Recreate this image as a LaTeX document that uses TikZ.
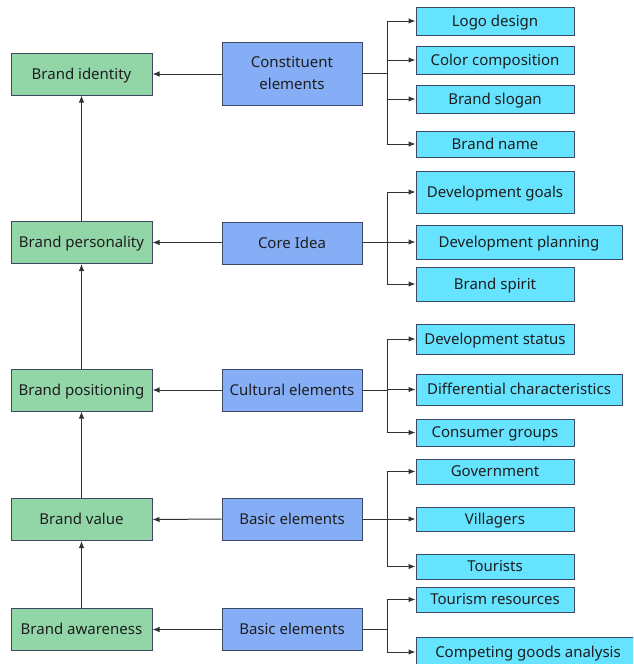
\documentclass[tikz,border=0pt]{standalone}
\usepackage{fontspec}
\setmainfont{Noto Sans}
\usetikzlibrary{arrows.meta}
\definecolor{gfill}{RGB}{146,214,168}
\definecolor{bfill}{RGB}{134,174,246}
\definecolor{cfill}{RGB}{102,227,255}
\definecolor{bord}{RGB}{60,72,100}
\definecolor{lin}{RGB}{50,50,50}
\definecolor{txt}{RGB}{30,30,30}
\tikzset{
  boxbase/.style={draw=bord, line width=1pt, inner sep=0pt, align=center, text=txt, font=\fontsize{15}{18}\selectfont, text height=10.7pt, text depth=0pt},
  gbox/.style={boxbase, fill=gfill, minimum width=141pt, minimum height=42pt},
  bbox/.style={boxbase, fill=bfill, minimum width=140pt, minimum height=42pt},
  cbox/.style={boxbase, fill=cfill, minimum width=158pt},
  wbox/.style={boxbase, fill=cfill, minimum width=206pt},
  conn/.style={draw=lin, line width=1pt},
  arr/.style={conn, -{Latex[length=7pt,width=5.5pt]}}
}
\begin{document}
\begin{tikzpicture}[x=1pt,y=-1pt]
\useasboundingbox (0,0) rectangle (633,664);
\begin{scope}
\clip (0,0) rectangle (633,664);
% green column
\node[gbox] (g1) at (81.5,74) {Brand identity};
\node[gbox] (g2) at (81.5,242.5) {Brand personality};
\node[gbox] (g3) at (81.5,390) {Brand positioning};
\node[gbox] (g4) at (81.5,519.5) {Brand value};
\node[gbox] (g5) at (81.5,629.5) {Brand awareness};
% blue column
\node[bbox, minimum height=63pt, text height=, text depth=, font=\fontsize{15}{22}\selectfont] (b1) at (292,73.5) {Constituent\\elements};
\node[bbox] (b2) at (292,243) {Core Idea};
\node[bbox] (b3) at (292,390) {Cultural elements};
\node[bbox] (b4) at (292,519) {Basic elements};
\node[bbox] (b5) at (292,629.5) {Basic elements};
% cyan group 1
\node[cbox, minimum height=28pt] (c11) at (495,21) {Logo design};
\node[cbox, minimum height=28pt] (c12) at (495,60) {Color composition};
\node[cbox, minimum height=28pt] (c13) at (495,99) {Brand slogan};
\node[cbox, minimum height=26pt] (c14) at (495,144) {Brand name};
% cyan group 2
\node[cbox, minimum height=42pt] (c21) at (495,192) {Development goals};
\node[wbox, minimum height=34pt] (c22) at (519,242) {Development planning};
\node[cbox, minimum height=34pt] (c23) at (495,284) {Brand spirit};
% cyan group 3
\node[cbox, minimum height=30pt] (c31) at (495,339) {Development status};
\node[wbox, minimum height=31pt] (c32) at (519,389.5) {Differential characteristics};
\node[cbox, minimum height=27pt] (c33) at (495,432.5) {Consumer groups};
% cyan group 4
\node[cbox, minimum height=25pt] (c41) at (495,471.5) {Government};
\node[cbox, minimum height=24pt] (c42) at (495,519) {Villagers};
\node[cbox, minimum height=25pt] (c43) at (495,566.5) {Tourists};
% cyan group 5
\node[cbox, minimum height=25pt] (c51) at (495,599.5) {Tourism resources};
\node[boxbase, fill=cfill, minimum width=224pt, minimum height=30pt] (c52) at (528,652) {Competing goods analysis};
% blue -> green
\draw[arr] (b1.west |- g1.east) -- (g1.east);
\draw[arr] (b2.west |- g2.east) -- (g2.east);
\draw[arr] (b3.west) -- (g3.east);
\draw[arr] (b4.west) -- (g4.east);
\draw[arr] (b5.west) -- (g5.east);
% green chain
\draw[arr] (g5.north) -- (g4.south);
\draw[arr] (g4.north) -- (g3.south);
\draw[arr] (g3.north) -- (g2.south);
\draw[arr] (g2.north) -- (g1.south);
% splits
\coordinate (s1) at (387,73.5);
\coordinate (s2) at (387,242);
\coordinate (s3) at (387,390);
\coordinate (s4) at (387,519);
\coordinate (s5) at (387,629.5);
\draw[conn] (b1.east) -- (s1);
\draw[conn] (b2.east |- s2) -- (s2);
\draw[conn] (b3.east) -- (s3);
\draw[conn] (b4.east) -- (s4);
\draw[conn] (b5.east) -- (s5);
\foreach \c in {c11,c12,c13,c14} \draw[arr] (s1) |- (\c.west);
\foreach \c in {c21,c22,c23} \draw[arr] (s2) |- (\c.west);
\foreach \c in {c31,c32,c33} \draw[arr] (s3) |- (\c.west);
\foreach \c in {c41,c42,c43} \draw[arr] (s4) |- (\c.west);
\draw[arr] (s5) |- (c51.west);
\draw[arr] (s5) |- (c52.west);
\end{scope}
\end{tikzpicture}
\end{document}
